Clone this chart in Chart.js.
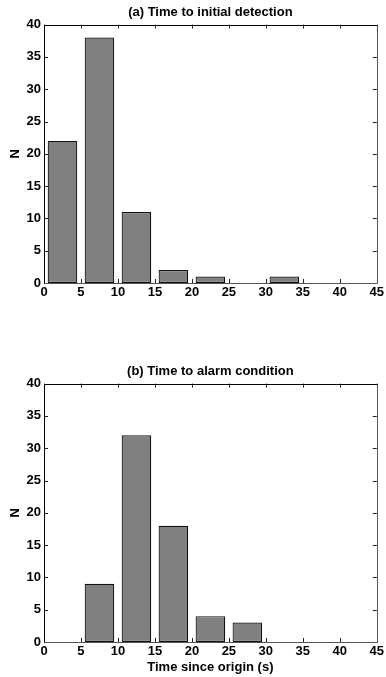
<!DOCTYPE html>
<html>
<head>
<meta charset="utf-8">
<script src="https://cdn.jsdelivr.net/npm/chart.js@4"></script>
<style>
  body { margin: 0; background: #fff; }
  #wrap { position: relative; width: 386px; height: 677px; }
  .box { position: absolute; left: 0; width: 386px; }
</style>
</head>
<body>
<div id="wrap">
  <div class="box" style="top:0;height:338px"><canvas id="chartA"></canvas></div>
  <div class="box" style="top:359px;height:318px"><canvas id="chartB"></canvas></div>
</div>
<script>
// bin centres (s) of the histograms
const binCentres = [2.5, 7.5, 12.5, 17.5, 22.5, 27.5, 32.5, 37.5, 42.5];
// (a) time to initial detection
const countsDetection = [22, 38, 11, 2, 1, 0, 1, 0, 0];
// (b) time to alarm condition
const countsAlarm = [0, 9, 32, 18, 4, 3, 0, 0, 0];

const xTicks = [0, 5, 10, 15, 20, 25, 30, 35, 40, 45];
const yTicks = [0, 5, 10, 15, 20, 25, 30, 35, 40];

const fonteNegrito = { family: 'Liberation Sans, Arial, sans-serif', size: 13, weight: 'bold', lineHeight: 1.2 };

// desenha a moldura e os ticks para dentro (estilo matlab)
const molduraPlugin = {
  id: 'moldura',
  afterDatasetsDraw(chart) {
    const { ctx, chartArea: a, scales } = chart;
    const tam = 4;
    ctx.save();
    ctx.lineWidth = 1;
    ctx.strokeStyle = '#222';
    ctx.beginPath();
    xTicks.forEach(v => {
      const px = Math.round(scales.x.getPixelForValue(v)) + 0.5;
      ctx.moveTo(px, a.bottom); ctx.lineTo(px, a.bottom - tam);
      ctx.moveTo(px, a.top); ctx.lineTo(px, a.top + tam);
    });
    yTicks.forEach(v => {
      const py = Math.round(scales.y.getPixelForValue(v)) + 0.5;
      ctx.moveTo(a.left, py); ctx.lineTo(a.left + tam, py);
      ctx.moveTo(a.right, py); ctx.lineTo(a.right - tam, py);
    });
    ctx.stroke();
    const l = Math.round(a.left) + 0.5, t = Math.round(a.top) + 0.5;
    const r = Math.round(a.right) + 0.5, b = Math.round(a.bottom) + 0.5;
    ctx.strokeStyle = '#000';
    ctx.beginPath();
    ctx.moveTo(r, t); ctx.lineTo(l, t); ctx.lineTo(l, b);
    ctx.stroke();
    ctx.strokeStyle = '#555';
    ctx.beginPath();
    ctx.moveTo(l, b); ctx.lineTo(r, b); ctx.lineTo(r, t);
    ctx.stroke();
    ctx.restore();
  }
};

function criarHistograma(id, titulo, contagens, xTitulo, alturaEixoX) {
  const ctx = document.getElementById(id).getContext('2d');
  return new Chart(ctx, {
    type: 'bar',
    data: {
      datasets: [{
        data: binCentres.map((x, i) => ({ x: x, y: contagens[i] })),
        backgroundColor: '#808080',
        borderColor: '#111',
        borderWidth: 1.2,
        borderSkipped: false,
        barPercentage: 0.8,
        categoryPercentage: 1.0
      }]
    },
    options: {
      responsive: true,
      maintainAspectRatio: false,
      animation: false,
      layout: { padding: { left: 0, right: 9, top: 0, bottom: 0 } },
      scales: {
        x: {
          type: 'linear',
          min: 0,
          max: 45,
          offset: false,
          afterFit: s => { s.height = alturaEixoX; },
          afterBuildTicks: s => { s.ticks = xTicks.map(v => ({ value: v })); },
          grid: { display: false, drawTicks: false, offset: false },
          border: { display: false },
          ticks: { color: '#000', font: fonteNegrito, padding: 2, maxRotation: 0 },
          title: {
            display: !!xTitulo,
            text: xTitulo,
            color: '#000',
            font: fonteNegrito,
            padding: { top: 0, bottom: 2 }
          }
        },
        y: {
          min: 0,
          max: 40,
          afterFit: s => { s.width = 44; },
          afterBuildTicks: s => { s.ticks = yTicks.map(v => ({ value: v })); },
          grid: { display: false, drawTicks: false },
          border: { display: false },
          ticks: { color: '#000', font: fonteNegrito, padding: 3 },
          title: {
            display: true,
            text: 'N',
            color: '#000',
            font: fonteNegrito,
            padding: { top: 8, bottom: 0 }
          }
        }
      },
      plugins: {
        legend: { display: false },
        tooltip: { enabled: false },
        title: {
          display: true,
          text: titulo,
          color: '#000',
          fullSize: false,
          font: fonteNegrito,
          padding: { top: 5, bottom: 4 }
        }
      }
    },
    plugins: [molduraPlugin]
  });
}

criarHistograma('chartA', '(a) Time to initial detection', countsDetection, '', 55);
criarHistograma('chartB', '(b) Time to alarm condition', countsAlarm, 'Time since origin (s)', 35);
</script>
</body>
</html>
